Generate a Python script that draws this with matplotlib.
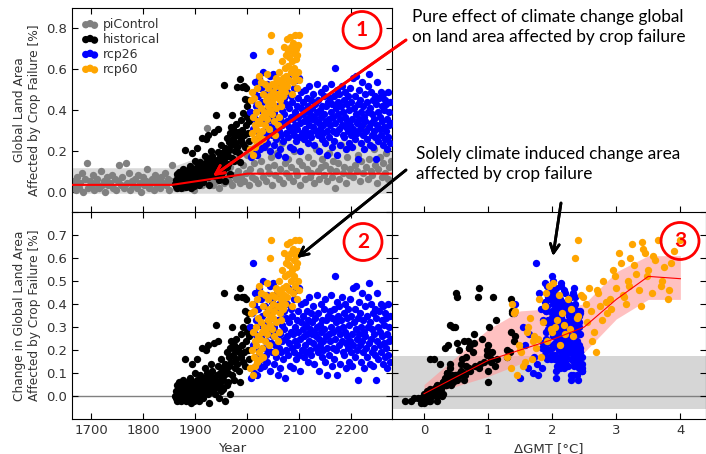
import numpy as np
import matplotlib.pyplot as plt
from matplotlib.patches import Ellipse

# ---- data ----
years_pi = np.arange(1664, 2278, 3)
pi_vals = [0.03, 0.05, 0.01, 0.07, 0.02, 0.04, 0.09, 0.00, 0.06, 0.14,
           0.02, 0.05, 0.03, 0.08, 0.01, 0.04, 0.06, 0.02, 0.10, 0.03,
           0.05, 0.00, 0.07, 0.03, 0.04, 0.08, 0.02, 0.06, 0.01, 0.05,
           0.13, 0.03, 0.07, 0.02, 0.14, 0.04, 0.09, 0.01, 0.05, 0.03,
           0.06, 0.02, 0.08, 0.04, 0.00, 0.07, 0.03, 0.05, 0.11, 0.02,
           0.04, 0.06, 0.01, 0.08, 0.03, 0.05, 0.02, 0.07, 0.04, 0.09,
           0.03, 0.06, 0.01, 0.05, 0.13, 0.04, 0.02, 0.07, 0.03, 0.05,
           0.08, 0.02, 0.06, 0.04, 0.10, 0.03, 0.07, 0.05, 0.01, 0.09,
           0.04, 0.06, 0.12, 0.03, 0.08, 0.05, 0.31, 0.10, 0.06, 0.14,
           0.03, 0.07, 0.05, 0.11, 0.02, 0.08, 0.13, 0.04, 0.06, 0.09,
           0.05, 0.12, 0.03, 0.08, 0.16, 0.06, 0.10, 0.04, 0.07, 0.13,
           0.05, 0.09, 0.18, 0.03, 0.11, 0.07, 0.14, 0.06, 0.20, 0.04,
           0.10, 0.15, 0.07, 0.22, 0.05, 0.12, 0.09, 0.17, 0.03, 0.13,
           0.08, 0.19, 0.06, 0.11, 0.24, 0.04, 0.14, 0.09, 0.16, 0.07,
           0.12, 0.05, 0.20, 0.10, 0.08, 0.15, 0.03, 0.13, 0.26, 0.06,
           0.11, 0.17, 0.07, 0.09, 0.14, 0.04, 0.21, 0.10, 0.06, 0.12,
           0.16, 0.08, 0.13, 0.05, 0.19, 0.11, 0.07, 0.15, 0.02, 0.10,
           0.14, 0.06, 0.23, 0.09, 0.12, 0.04, 0.17, 0.08, 0.11, 0.28,
           0.07, 0.13, 0.10, 0.18, 0.05, 0.15, 0.09, 0.32, 0.12, 0.06,
           0.16, 0.10, 0.08, 0.21, 0.13, 0.04, 0.11, 0.17, 0.07, 0.14,
           0.09, 0.19, 0.06, 0.12, 0.15]

years_hist = np.arange(1861, 2006)
hist_change = [0.00, -0.01, 0.02, 0.05, -0.02, 0.01, 0.03, -0.01, 0.06, 0.02,
               0.00, 0.04, -0.02, 0.01, 0.03, 0.07, -0.01, 0.02, 0.05, 0.16,
               0.01, -0.02, 0.03, 0.00, 0.06, 0.02, -0.01, 0.04, 0.01, 0.08,
               -0.03, 0.02, 0.05, 0.14, 0.00, 0.03, -0.02, 0.06, 0.01, 0.10,
               0.04, -0.01, 0.07, 0.16, 0.02, 0.00, 0.05, -0.02, 0.09, 0.03,
               0.06, 0.01, 0.21, 0.04, -0.01, 0.08, 0.02, 0.12, 0.05, 0.20,
               0.03, 0.10, 0.07, 0.22, 0.01, 0.05, -0.03, 0.09, 0.04, 0.14,
               0.06, 0.02, 0.11, 0.08, 0.23, 0.03, 0.07, 0.01, 0.05, 0.31,
               0.04, 0.09, 0.13, 0.24, 0.06, -0.01, 0.10, 0.05, 0.02, 0.16,
               0.08, 0.12, 0.03, 0.07, 0.45, 0.09, -0.02, 0.14, 0.11, 0.05,
               0.19, 0.10, 0.06, 0.17, 0.13, 0.21, 0.01, 0.24, 0.15, 0.30,
               0.09, 0.23, 0.18, 0.07, 0.22, 0.12, 0.20, 0.16, 0.25, 0.43,
               0.14, 0.21, 0.11, 0.19, 0.47, 0.06, 0.27, 0.17, 0.43, 0.22,
               0.30, 0.15, 0.43, 0.19, 0.37, 0.13, 0.42, 0.24, 0.33, 0.28,
               0.20, 0.36, 0.16, 0.26, 0.30]
hist_gmt = [0.05, -0.10, 0.15, 0.20, 0.00, 0.10, 0.25, -0.05, 0.30, 0.05,
            0.12, 0.22, -0.20, 0.08, 0.18, 0.35, 0.02, 0.14, 0.28, 0.15,
            0.00, -0.30, 0.10, 0.20, 0.40, 0.06, -0.15, 0.26, 0.12, 0.32,
            -0.05, 0.18, 0.30, 0.25, 0.04, 0.22, 0.10, 0.45, 0.16, 0.36,
            0.20, 0.02, 0.38, 0.10, 0.12, 0.28, 0.42, 0.08, 0.50, 0.24,
            0.34, 0.14, 0.32, 0.18, 0.06, 0.46, 0.22, 0.40, 0.30, 0.55,
            0.16, 0.36, 0.52, 0.38, 0.10, 0.26, 0.00, 0.44, 0.20, 0.40,
            0.30, 0.12, 0.58, 0.48, 0.52, 0.24, 0.62, 0.18, 0.34, 0.40,
            0.22, 0.48, 0.66, 0.68, 0.36, 0.08, 0.56, 0.28, 0.14, 0.60,
            0.42, 0.70, 0.26, 0.50, 0.50, 0.64, 0.20, 0.58, 0.72, 0.34,
            0.76, 0.62, 0.44, 0.66, 0.80, 0.70, 0.30, 0.62, 0.94, 0.48,
            0.56, 0.78, 0.98, 0.40, 0.72, 0.86, 0.98, 1.05, 0.90, 0.84,
            0.88, 0.70, 1.00, 1.06, 0.86, 1.00, 0.78, 1.30, 0.52, 1.00,
            0.45, 1.05, 1.08, 1.34, 1.38, 1.10, 1.36, 1.40, 1.12, 1.36,
            1.30, 1.38, 1.14, 1.42, 1.02]

years_rcp26 = np.arange(2006, 2277)
rcp26_change = [0.30, 0.08, 0.36, 0.12, 0.58, 0.22, 0.40, 0.10, 0.27, 0.45,
                0.17, 0.33, 0.09, 0.25, 0.38, 0.14, 0.47, 0.20, 0.31, 0.12,
                0.42, 0.26, 0.16, 0.35, 0.21, 0.50, 0.13, 0.29, 0.39, 0.18,
                0.24, 0.44, 0.15, 0.32, 0.20, 0.37, 0.27, 0.11, 0.48, 0.23,
                0.34, 0.19, 0.41, 0.26, 0.49, 0.14, 0.30, 0.22, 0.38, 0.17,
                0.28, 0.45, 0.09, 0.33, 0.21, 0.40, 0.12, 0.27, 0.36, 0.19,
                0.31, 0.24, 0.43, 0.16, 0.29, 0.37, 0.08, 0.25, 0.34, 0.20,
                0.40, 0.26, 0.18, 0.47, 0.23, 0.32, 0.13, 0.28, 0.38, 0.21,
                0.35, 0.12, 0.27, 0.42, 0.19, 0.30, 0.24, 0.46, 0.16, 0.33,
                0.22, 0.37, 0.28, 0.18, 0.47, 0.25, 0.11, 0.32, 0.40, 0.20,
                0.29, 0.35, 0.17, 0.26, 0.41, 0.22, 0.31, 0.19, 0.37, 0.27,
                0.15, 0.33, 0.24, 0.43, 0.20, 0.29, 0.36, 0.18, 0.27, 0.32,
                0.23, 0.39, 0.28, 0.14, 0.34, 0.26, 0.21, 0.44, 0.30, 0.19,
                0.36, 0.25, 0.11, 0.31, 0.22, 0.40, 0.28, 0.17, 0.33, 0.24,
                0.20, 0.38, 0.29, 0.15, 0.42, 0.26, 0.33, 0.21, 0.09, 0.35,
                0.27, 0.18, 0.37, 0.24, 0.44, 0.30, 0.13, 0.34, 0.21, 0.28,
                0.38, 0.16, 0.52, 0.25, 0.32, 0.20, 0.41, 0.09, 0.29, 0.35,
                0.22, 0.39, 0.27, 0.14, 0.33, 0.24, 0.43, 0.19, 0.30, 0.36,
                0.18, 0.28, 0.40, 0.23, 0.12, 0.34, 0.26, 0.21, 0.38, 0.15,
                0.31, 0.24, 0.42, 0.19, 0.35, 0.27, 0.13, 0.47, 0.22, 0.32,
                0.38, 0.17, 0.29, 0.48, 0.25, 0.20, 0.34, 0.07, 0.41, 0.27,
                0.22, 0.36, 0.15, 0.30, 0.45, 0.24, 0.19, 0.33, 0.28, 0.12,
                0.39, 0.26, 0.21, 0.35, 0.17, 0.43, 0.30, 0.23, 0.49, 0.14,
                0.32, 0.25, 0.40, 0.19, 0.29, 0.36, 0.13, 0.27, 0.21, 0.38,
                0.18, 0.34, 0.07, 0.45, 0.24, 0.30, 0.16, 0.37, 0.22, 0.28,
                0.40, 0.19, 0.33, 0.26, 0.14, 0.39, 0.23, 0.31, 0.17, 0.36,
                0.21, 0.34, 0.12, 0.27, 0.40, 0.18, 0.30, 0.24, 0.35, 0.15,
                0.25]
rcp26_gmt = [1.55, 1.50, 1.40, 1.62, 1.75, 1.58, 1.42, 1.70, 1.64, 1.80,
             1.72, 1.85, 1.78, 1.90, 1.82, 1.76, 1.95, 1.88, 2.00, 1.84,
             1.98, 2.05, 1.92, 2.10, 1.86, 2.02, 2.08, 1.94, 2.15, 2.00,
             2.12, 1.96, 2.20, 2.04, 2.18, 1.90, 2.25, 2.06, 2.14, 2.22,
             2.00, 2.30, 2.10, 2.26, 1.88, 2.35, 2.16, 2.02, 2.28, 2.40,
             2.08, 2.20, 2.32, 1.95, 2.24, 2.12, 2.42, 2.04, 2.30, 2.18,
             2.26, 2.10, 2.36, 1.98, 2.22, 2.44, 2.06, 2.30, 2.14, 2.38,
             2.02, 2.28, 2.16, 2.34, 1.92, 2.20, 2.40, 2.08, 2.26, 1.84,
             2.32, 2.12, 2.44, 2.00, 2.24, 1.96, 2.36, 2.18, 2.04, 2.28,
             2.14, 2.40, 1.90, 2.22, 2.06, 2.34, 2.46, 1.98, 2.26, 2.10,
             2.36, 2.02, 2.20, 2.30, 1.88, 2.42, 2.12, 2.24, 2.00, 2.32,
             2.18, 2.08, 2.38, 1.94, 2.28, 2.14, 2.44, 2.04, 2.22, 2.34,
             1.86, 2.26, 2.12, 2.40, 2.00, 2.30, 2.16, 2.06, 2.36, 2.20,
             2.10, 2.32, 2.46, 1.96, 2.24, 2.04, 2.38, 2.14, 2.28, 1.92,
             2.42, 2.06, 2.20, 2.34, 2.12, 2.26, 1.98, 2.44, 2.30, 2.08,
             2.16, 2.36, 1.90, 2.28, 2.02, 2.40, 2.22, 2.10, 2.32, 2.18,
             2.04, 2.30, 2.00, 2.14, 2.42, 1.94, 2.24, 2.38, 2.08, 2.26,
             2.34, 2.12, 2.20, 2.46, 1.98, 2.30, 2.06, 2.40, 2.16, 2.28,
             1.88, 2.22, 2.36, 2.04, 2.44, 2.14, 2.32, 2.00, 2.26, 2.10,
             2.38, 2.18, 1.96, 2.30, 2.08, 2.42, 2.24, 2.02, 2.34, 2.12,
             2.20, 2.46, 2.10, 1.92, 2.28, 2.36, 2.04, 2.40, 2.16, 2.30,
             2.06, 2.24, 2.38, 2.00, 2.32, 2.12, 2.44, 1.94, 2.26, 2.18,
             2.34, 2.02, 2.22, 2.42, 1.98, 2.30, 2.10, 2.36, 2.14, 2.40,
             1.90, 2.28, 2.08, 2.44, 2.20, 2.00, 2.34, 2.16, 2.26, 2.06,
             2.38, 2.12, 2.30, 1.96, 2.24, 2.42, 2.04, 2.18, 2.36, 2.10,
             2.22, 2.44, 2.00, 2.32, 2.14, 1.92, 2.28, 2.40, 2.06, 2.26,
             2.16, 2.34, 2.46, 2.02, 2.20, 2.38, 1.98, 2.30, 2.12, 2.42,
             2.24]

years_rcp60 = np.arange(2006, 2101)
rcp60_change = [0.12, 0.36, 0.20, 0.40, 0.09, 0.28, 0.17, 0.37, 0.24, 0.13,
                0.30, 0.22, 0.42, 0.15, 0.26, 0.34, 0.19, 0.48, 0.25, 0.16,
                0.32, 0.45, 0.21, 0.28, 0.39, 0.17, 0.30, 0.24, 0.44, 0.29,
                0.36, 0.49, 0.27, 0.33, 0.42, 0.22, 0.38, 0.31, 0.60, 0.35,
                0.68, 0.29, 0.44, 0.34, 0.40, 0.26, 0.37, 0.19, 0.43, 0.47,
                0.32, 0.46, 0.24, 0.39, 0.50, 0.28, 0.36, 0.45, 0.42, 0.33,
                0.55, 0.41, 0.47, 0.38, 0.62, 0.44, 0.52, 0.40, 0.58, 0.48,
                0.66, 0.43, 0.53, 0.60, 0.46, 0.57, 0.67, 0.50, 0.62, 0.39,
                0.55, 0.64, 0.45, 0.59, 0.52, 0.68, 0.48, 0.61, 0.56, 0.42,
                0.58, 0.50, 0.63, 0.46, 0.68]
rcp60_gmt = [1.35, 1.40, 1.50, 1.38, 1.45, 1.60, 1.30, 1.42, 1.70, 1.55,
             1.62, 1.48, 1.80, 1.58, 1.72, 1.66, 1.52, 1.95, 1.78, 1.68,
             1.85, 1.90, 1.74, 2.00, 1.88, 1.82, 2.05, 1.92, 2.10, 1.98,
             2.15, 2.02, 2.20, 2.08, 2.25, 2.12, 2.30, 2.18, 2.35, 2.40,
             2.40, 2.28, 2.45, 2.38, 2.52, 2.32, 2.60, 2.68, 2.48, 2.58,
             2.55, 2.70, 2.62, 2.75, 2.80, 2.66, 2.85, 2.72, 2.90, 2.78,
             2.95, 2.84, 3.00, 2.92, 3.05, 3.10, 2.98, 3.15, 3.08, 3.20,
             3.25, 3.12, 3.30, 3.22, 3.35, 3.28, 3.40, 3.18, 3.45, 3.38,
             3.50, 3.42, 3.55, 3.60, 3.48, 3.65, 3.70, 3.58, 3.75, 3.80,
             3.85, 3.72, 3.90, 3.82, 4.00]

# piControl spread and mean (top panel)
band_years = [1663, 1850, 1940, 1995, 2278]
band_hi = [0.117, 0.117, 0.20, 0.255, 0.255]
band_lo = [-0.008, -0.008, -0.008, -0.008, -0.008]
mean_years = [1663, 1855, 2000, 2278]
mean_vals = [0.033, 0.033, 0.088, 0.088]

# binned response vs warming (bottom right)
gmt_bins = [0, 1, 1.5, 2, 2.5, 3, 3.5, 4]
bin_med = [0.01, 0.155, 0.20, 0.245, 0.30, 0.42, 0.52, 0.51]
bin_lo = [0.0, 0.085, 0.14, 0.17, 0.19, 0.335, 0.42, 0.42]
bin_hi = [0.05, 0.29, 0.37, 0.38, 0.40, 0.54, 0.61, 0.61]
noise_lo, noise_hi = -0.057, 0.172

# absolute values = change + piControl mean
hist_abs = np.array(hist_change) + np.interp(years_hist, mean_years, mean_vals)
rcp26_abs = np.array(rcp26_change) + np.interp(years_rcp26, mean_years, mean_vals)
rcp60_abs = np.array(rcp60_change) + np.interp(years_rcp60, mean_years, mean_vals)

W, H = 706, 454
def fx(x):
    return x / W
def fy(y):
    return 1 - y / H

txtc = '#333333'
plt.rcParams['font.size'] = 9.5
plt.rcParams['text.color'] = txtc
plt.rcParams['axes.labelcolor'] = txtc
plt.rcParams['xtick.labelcolor'] = txtc
plt.rcParams['ytick.labelcolor'] = txtc

fig = plt.figure(figsize=(7.06, 4.54), dpi=100)
x0, x1, x2 = fx(72), fx(392), 1.0
y_top, y_mid, y_bot = fy(8), fy(212), fy(419)

ax1 = fig.add_axes([x0, y_mid, x1 - x0, y_top - y_mid])
ax2 = fig.add_axes([x0, y_bot, x1 - x0, y_mid - y_bot], sharex=ax1)
ax3 = fig.add_axes([x1, y_bot, x2 - x1, y_mid - y_bot], sharey=ax2)
ax4 = fig.add_axes([x1, y_mid, x2 - x1, y_top - y_mid], sharex=ax3)

s = 28
for ax in (ax1, ax2, ax3):
    ax.tick_params(direction='in', top=True, right=True, length=4, width=0.8)

# panel 1
ax1.fill_between(band_years, band_lo, band_hi, color='#d9d9d9', lw=0, zorder=1)
ax1.scatter(years_pi, pi_vals, s=s, c='gray', lw=0, label='piControl', zorder=2)
ax1.scatter(years_hist, hist_abs, s=s, c='black', lw=0, label='historical', zorder=3)
ax1.scatter(years_rcp26, rcp26_abs, s=s, c='blue', lw=0, label='rcp26', zorder=3)
ax1.scatter(years_rcp60, rcp60_abs, s=s, c='orange', lw=0, label='rcp60', zorder=4)
ax1.plot(mean_years, mean_vals, color='red', lw=1.5, zorder=5)
ax1.set_xlim(1663, 2278)
ax1.set_ylim(-0.1, 0.9)
ax1.set_xticks([1700, 1800, 1900, 2000, 2100, 2200])
ax1.set_yticks([0.0, 0.2, 0.4, 0.6, 0.8])
ax1.tick_params(labelbottom=False)
ax1.set_ylabel('Global Land Area\nAffected by Crop Failure [%]', fontsize=8.8)
ax1.legend(loc='upper left', frameon=False, fontsize=9, scatterpoints=3,
           handlelength=1.3, handletextpad=0.4, labelspacing=0.15,
           borderaxespad=0.3, borderpad=0.5)

# panel 2
ax2.axhline(0, color='gray', lw=1, zorder=1)
ax2.scatter(years_hist, hist_change, s=s, c='black', lw=0, zorder=3)
ax2.scatter(years_rcp26, rcp26_change, s=s, c='blue', lw=0, zorder=3)
ax2.scatter(years_rcp60, rcp60_change, s=s, c='orange', lw=0, zorder=4)
ax2.set_ylim(-0.1, 0.8)
ax2.set_yticks([0.0, 0.1, 0.2, 0.3, 0.4, 0.5, 0.6, 0.7, 0.8])
ax2.set_yticklabels(['0.0', '0.1', '0.2', '0.3', '0.4', '0.5', '0.6', '0.7', ''])
ax2.set_xlabel('Year', fontsize=9.5)
ax2.set_ylabel('Change in Global Land Area\nAffected by Crop Failure [%]', fontsize=8.8)

# panel 3
ax3.axhspan(noise_lo, noise_hi, color='#d6d6d6', lw=0, zorder=0)
ax3.axhline(0, color='gray', lw=1, zorder=1)
ax3.fill_between(gmt_bins, bin_lo, bin_hi, color='#ff9999', alpha=0.6, lw=0, zorder=2)
ax3.scatter(hist_gmt, hist_change, s=s, c='black', lw=0, zorder=3)
ax3.scatter(rcp26_gmt, rcp26_change, s=s, c='blue', lw=0, zorder=3)
ax3.scatter(rcp60_gmt, rcp60_change, s=s, c='orange', lw=0, zorder=4)
ax3.plot(gmt_bins, bin_med, color='red', lw=0.8, zorder=5)
ax3.set_xlim(-0.5, 4.4)
ax3.set_xticks([0, 1, 2, 3, 4])
ax3.tick_params(labelleft=False, top=False)
ax3.set_xlabel('\u0394GMT [\u00b0C]', fontsize=9.5)

# empty top-right panel: only its bottom ticks show
for sp in ax4.spines.values():
    sp.set_visible(False)
ax4.patch.set_visible(False)
ax4.tick_params(direction='in', left=False, labelleft=False, labelbottom=False,
                length=4, width=0.8)

# annotations
afont = ['Lato', 'DejaVu Sans']
fig.text(fx(412), fy(9), 'Pure effect of climate change global\non land area affected by crop failure',
         family=afont, fontsize=12.4, color='black', va='top', linespacing=1.3)
fig.text(fx(416), fy(146), 'Solely climate induced change area\naffected by crop failure',
         family=afont, fontsize=12.4, color='black', va='top', linespacing=1.3)

for num, cx, cy in [('1', 362, 30), ('2', 363, 242), ('3', 680, 241)]:
    fig.add_artist(Ellipse((fx(cx), fy(cy)), 38 / W, 37 / H, transform=fig.transFigure,
                           fill=False, ec='red', lw=2, zorder=10))
    fig.text(fx(cx), fy(cy), num, family=afont, fontsize=15, fontweight='bold',
             color='red', ha='center', va='center', zorder=11)

arrows = [((406, 40), (213, 176), 'red'),
          ((406, 170), (297, 258), 'black'),
          ((561, 203), (553, 256), 'black')]
for (sx, sy), (ex, ey), col in arrows:
    fig.add_artist(plt.annotate('', xy=(fx(ex), fy(ey)), xytext=(fx(sx), fy(sy)),
                                xycoords='figure fraction', textcoords='figure fraction',
                                arrowprops=dict(arrowstyle='->', color=col, lw=2,
                                                mutation_scale=16, shrinkA=0, shrinkB=0)))

fig.savefig('out.png', dpi=100)
